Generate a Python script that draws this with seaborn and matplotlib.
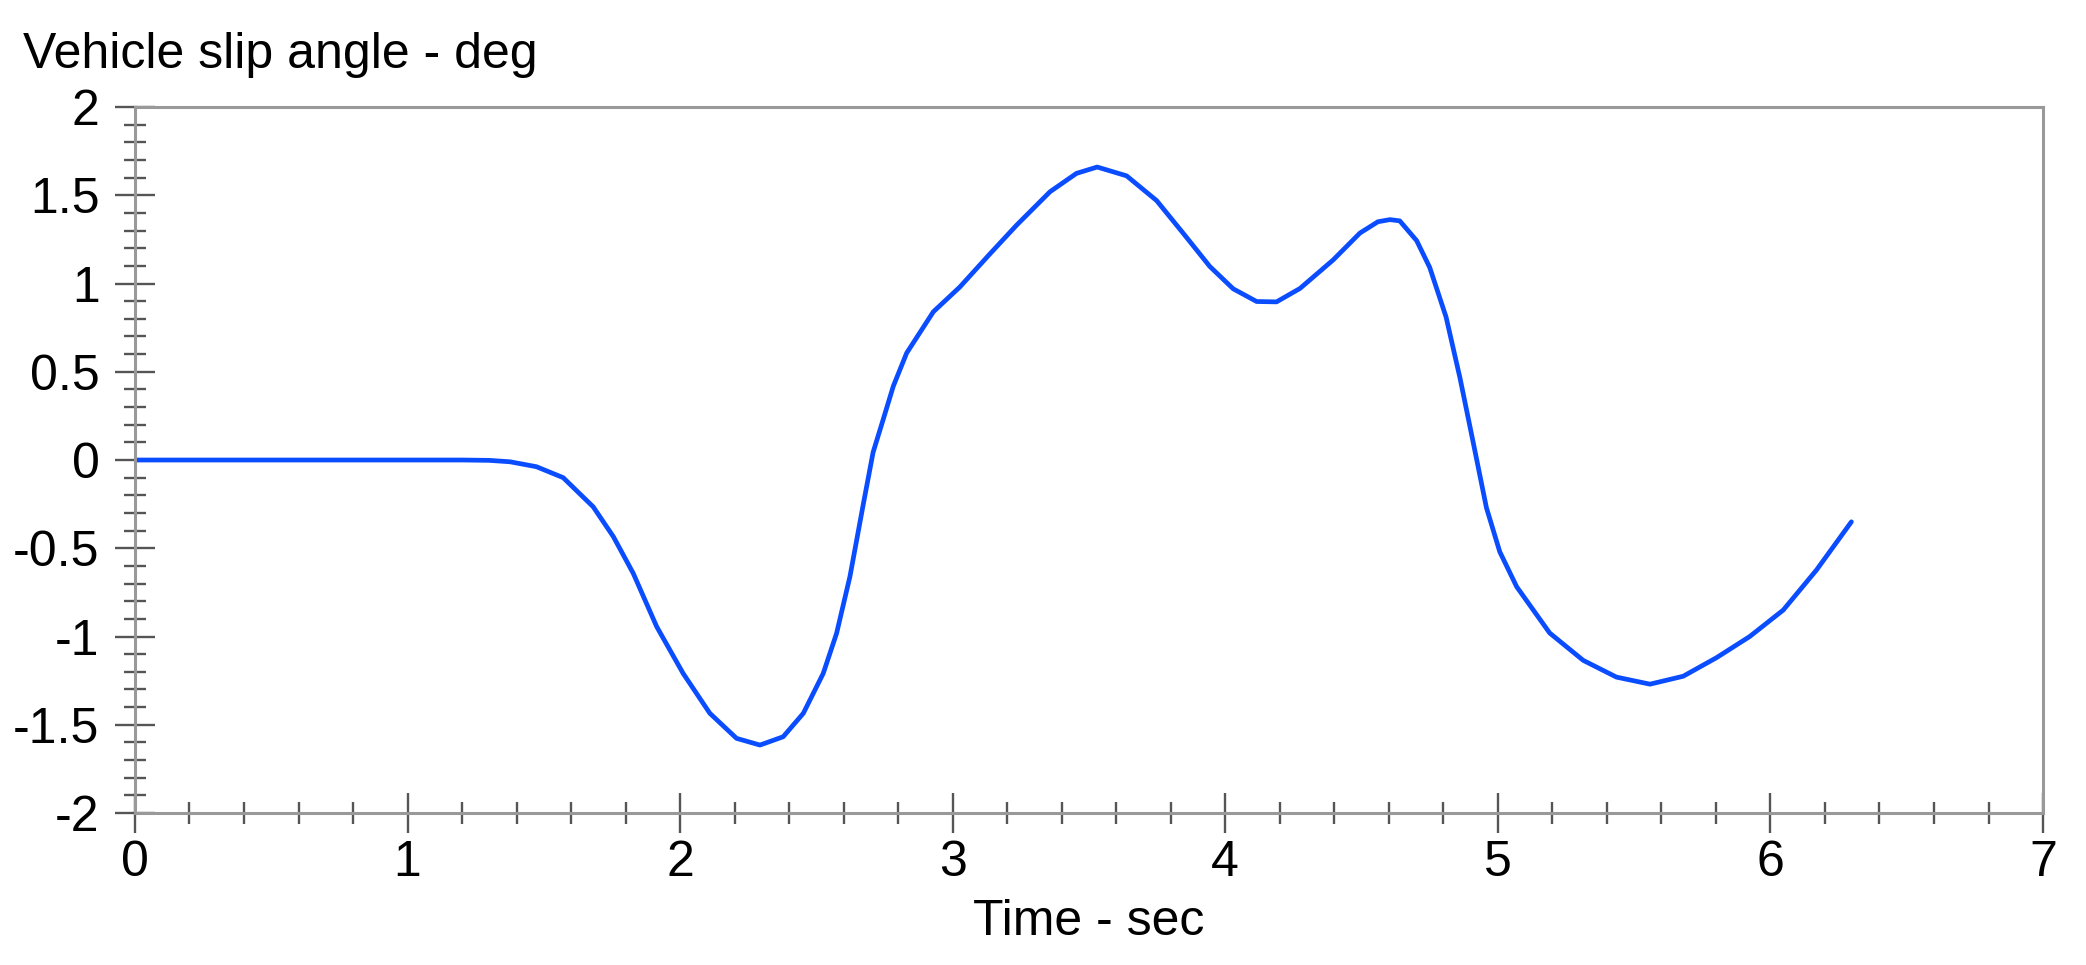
import numpy as np
import pandas as pd
import seaborn as sns
import matplotlib.pyplot as plt
from matplotlib.ticker import MultipleLocator

# Values
time_s = [0.0, 0.5, 1.0, 1.2, 1.3, 1.376, 1.473, 1.571, 1.681, 1.755, 1.828,
          1.914, 2.011, 2.109, 2.207, 2.293, 2.378, 2.452, 2.525, 2.574, 2.623,
          2.672, 2.708, 2.745, 2.782, 2.831, 2.929, 3.026, 3.136, 3.234, 3.357,
          3.454, 3.53, 3.638, 3.748, 3.846, 3.943, 4.029, 4.115, 4.188, 4.274,
          4.396, 4.494, 4.56, 4.604, 4.64, 4.702, 4.75, 4.81, 4.861, 4.91,
          4.958, 5.007, 5.069, 5.19, 5.313, 5.435, 5.558, 5.68, 5.802, 5.924,
          6.047, 6.169, 6.297]
slip_deg = [0.0, 0.0, 0.0, 0.0, -0.002, -0.01, -0.038, -0.10, -0.265, -0.434, -0.642,
            -0.944, -1.209, -1.435, -1.577, -1.615, -1.568, -1.435, -1.209, -0.982, -0.66,
            -0.25, 0.044, 0.23, 0.418, 0.606, 0.84, 0.98, 1.167, 1.33, 1.52,
            1.624, 1.66, 1.61, 1.47, 1.284, 1.097, 0.97, 0.898, 0.896, 0.972,
            1.134, 1.286, 1.35, 1.362, 1.355, 1.243, 1.091, 0.81, 0.465, 0.096,
            -0.27, -0.52, -0.718, -0.98, -1.135, -1.23, -1.27, -1.225, -1.12, -1.0,
            -0.85, -0.623, -0.35]

y_ticks = [-2, -1.5, -1, -0.5, 0, 0.5, 1, 1.5, 2]
y_tick_labels = ["-2", "-1.5", "-1", "-0.5", "0", "0.5", "1", "1.5", "2"]

df = pd.DataFrame({"time": time_s, "slip": slip_deg})

sns.set_theme(style="white")
plt.rcParams["font.family"] = ["Liberation Sans", "DejaVu Sans"]

fig = plt.figure(figsize=(20.86, 9.65), dpi=100)
ax = fig.add_axes([0.0647, 0.1575, 0.9147, 0.7316])

sns.lineplot(data=df, x="time", y="slip", color="#0a4cff", linewidth=3.4, ax=ax)
for line in ax.get_lines():
    line.set_solid_joinstyle("round")

ax.set_xlim(0, 7)
ax.set_ylim(-2, 2)
ax.xaxis.set_major_locator(MultipleLocator(1))
ax.xaxis.set_minor_locator(MultipleLocator(0.2))
ax.yaxis.set_minor_locator(MultipleLocator(0.1))
ax.set_yticks(y_ticks)
ax.set_yticklabels(y_tick_labels)

# ticks cross the axis lines, as in the original plot
ax.tick_params(which="both", bottom=True, left=True, top=False, right=False)
ax.tick_params(which="major", direction="inout", length=29, width=1.7,
               color="#555555", labelsize=36, labelcolor="black")
ax.tick_params(which="minor", direction="inout", length=16.5, width=1.7, color="#555555")
ax.tick_params(axis="y", which="major", pad=11)
ax.tick_params(axis="x", which="major", pad=5)

for side in ["left", "bottom", "top", "right"]:
    ax.spines[side].set_visible(True)
    ax.spines[side].set_color("#999999")
    ax.spines[side].set_linewidth(2.2)

ax.set_xlabel("Time - sec", fontsize=36, labelpad=9, color="black")
ax.set_ylabel("")
fig.text(23 / 2086, 1 - 68 / 965, "Vehicle slip angle - deg", fontsize=36,
         ha="left", va="baseline", color="black")

fig.savefig("out.png", dpi=100)
